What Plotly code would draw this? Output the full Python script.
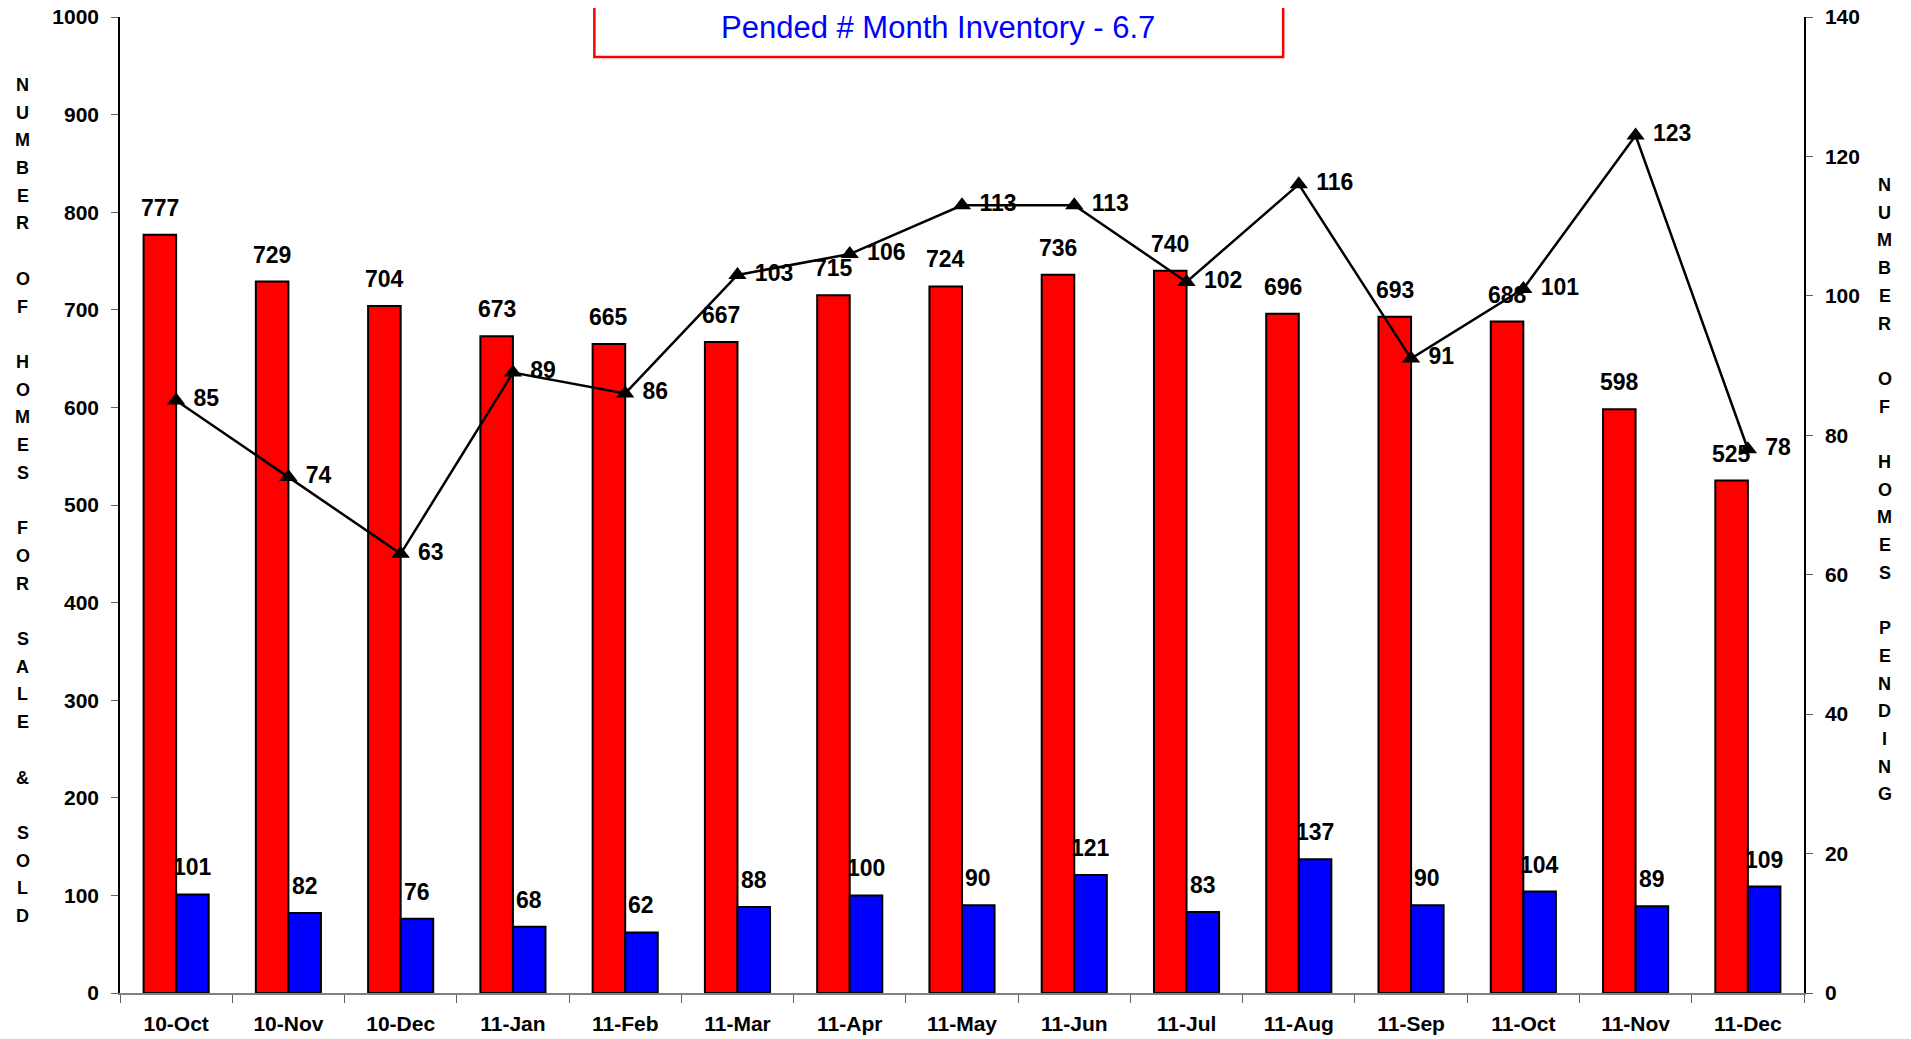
import plotly.graph_objects as go

months = ["10-Oct", "10-Nov", "10-Dec", "11-Jan", "11-Feb", "11-Mar", "11-Apr", "11-May",
          "11-Jun", "11-Jul", "11-Aug", "11-Sep", "11-Oct", "11-Nov", "11-Dec"]
for_sale = [777, 729, 704, 673, 665, 667, 715, 724, 736, 740, 696, 693, 688, 598, 525]
sold = [101, 82, 76, 68, 62, 88, 100, 90, 121, 83, 137, 90, 104, 89, 109]
pending = [85, 74, 63, 89, 86, 103, 106, 113, 113, 102, 116, 91, 101, 123, 78]

left_title = "NUMBER OF HOMES FOR SALE & SOLD"
right_title = "NUMBER OF HOMES PENDING"
box_text = "Pended # Month Inventory - 6.7"

# page has an 8px body margin; figure coordinates = screen coordinates - 8
OFF = 8
W, H = 1903, 1031
L, R, T, B = 119.5 - OFF, 1804 - OFF, 17 - OFF, 993 - OFF
FONT = "Arial, Liberation Sans, sans-serif"
BARGAP = 0.42


def px_x(p):
    return (p - OFF - L) / (R - L)


def px_y(p):
    return (B - (p - OFF)) / (B - T)


fig = go.Figure()
fig.add_trace(go.Bar(
    x=months, y=for_sale, name="For Sale",
    marker=dict(color="#FF0000", line=dict(color="#000000", width=2)),
))
fig.add_trace(go.Bar(
    x=months, y=sold, name="Sold",
    marker=dict(color="#0000FF", line=dict(color="#000000", width=2)),
))
fig.add_trace(go.Scatter(
    x=months, y=pending, name="Pending", yaxis="y2",
    mode="lines+markers+text",
    line=dict(color="#000000", width=2.5),
    marker=dict(symbol="triangle-up", size=16, color="#000000"),
    text=["\u00a0" + str(v) for v in pending], textposition="middle right",
    textfont=dict(family=FONT, size=23, color="#000000", weight="bold"),
    cliponaxis=False,
))

annotations = []

# bar value labels, anchored to each bar's top through the axes
cat_px = (R - L) / len(months)
half_bar = cat_px * (1 - BARGAP) / 4
labfont = dict(family=FONT, size=23, color="#000000", weight="bold")
for series, shift in ((for_sale, -half_bar), (sold, half_bar)):
    for m, v in zip(months, series):
        annotations.append(dict(x=m, y=v, xref="x", yref="y", text=str(v), showarrow=False,
                                xanchor="center", yanchor="bottom", xshift=shift, yshift=12,
                                font=labfont))

step = 27.7


def stack(title):
    lines = []
    for w in title.split(" "):
        lines.extend(list(w))
        lines.append("")
    return lines[:-1]


for title, xpx, y0 in ((left_title, 22, 85), (right_title, 1885, 185)):
    for i, ch in enumerate(stack(title)):
        if ch:
            annotations.append(dict(x=px_x(xpx), y=px_y(y0 + i * step), xref="paper", yref="paper",
                                    text=ch, showarrow=False, xanchor="center", yanchor="middle",
                                    font=dict(family=FONT, size=18, color="#000000", weight="bold")))

annotations.append(dict(x=px_x(938), y=px_y(28), xref="paper", yref="paper", text=box_text,
                        showarrow=False, xanchor="center", yanchor="middle",
                        font=dict(family=FONT, size=31, color="#0000FF")))

shapes = [dict(type="rect", xref="paper", yref="paper",
               x0=px_x(594), x1=px_x(1283), y0=px_y(57), y1=px_y(-20),
               line=dict(color="#FF0000", width=2.5), fillcolor="rgba(255,255,255,0)")]

tickfont = dict(family=FONT, size=21, color="#000000", weight="bold")

fig.update_layout(
    width=W, height=H,
    margin=dict(l=L, r=W - R, t=T, b=H - B, pad=0, autoexpand=False),
    paper_bgcolor="white", plot_bgcolor="white",
    showlegend=False,
    barmode="group", bargap=BARGAP, bargroupgap=0,
    font=dict(family=FONT, color="#000000"),
    xaxis=dict(type="category", range=[-0.5, len(months) - 0.5], automargin=False,
               showline=True, linecolor="#808080", linewidth=1.5,
               ticks="outside", ticklen=8, tickcolor="#606060", tickson="boundaries",
               tickfont=tickfont, ticklabeloverflow="allow",
               ticklabelstandoff=11, showgrid=False, zeroline=False),
    yaxis=dict(range=[0, 1000], dtick=100, automargin=False, showline=True,
               linecolor="#000000", linewidth=1.5,
               ticks="outside", ticklen=7, tickcolor="#606060",
               tickfont=tickfont, ticklabeloverflow="allow",
               ticklabelstandoff=8, showgrid=False, zeroline=False),
    yaxis2=dict(range=[0, 140], dtick=20, overlaying="y", side="right", automargin=False,
                showline=True, linecolor="#000000", linewidth=1.5,
                ticks="outside", ticklen=7, tickcolor="#606060",
                tickfont=tickfont, ticklabeloverflow="allow",
                ticklabelstandoff=8, showgrid=False, zeroline=False),
    annotations=annotations,
    shapes=shapes,
)

fig.write_html("out.html")
